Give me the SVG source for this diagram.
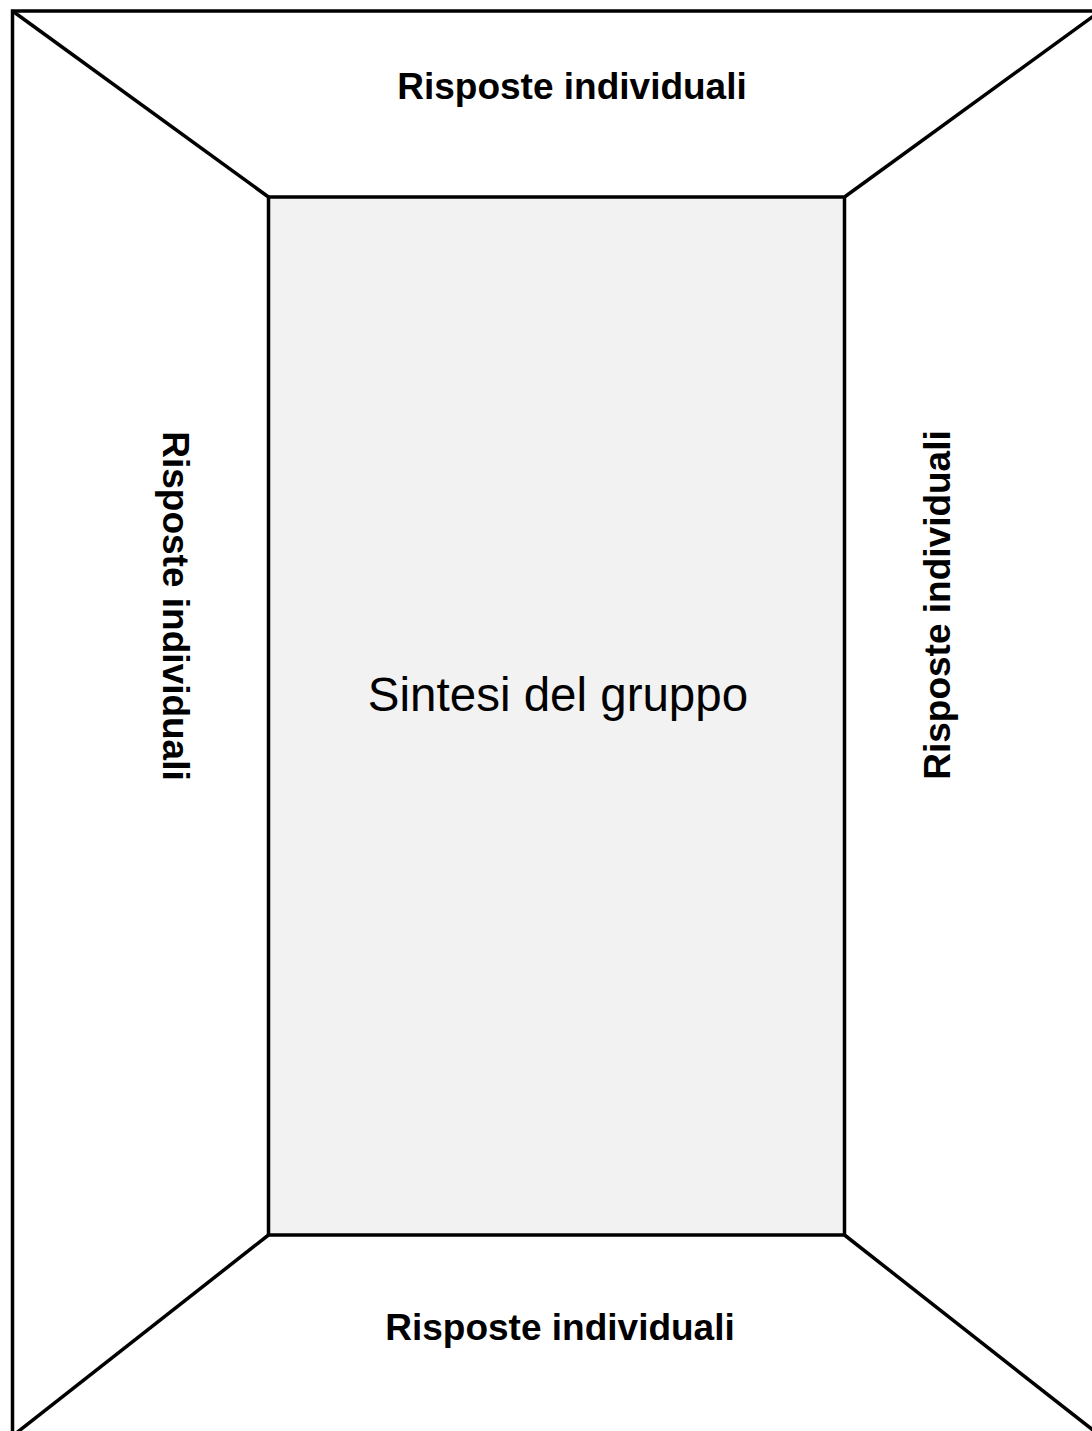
<svg xmlns="http://www.w3.org/2000/svg" width="1092" height="1431" viewBox="0 0 1092 1431">
<style>
.edge{stroke:#000;stroke-width:3.5;fill:none}
.lbl{font-family:"Liberation Sans",Arial,sans-serif;font-weight:bold;font-size:37px;fill:#000;text-anchor:middle}
.main{font-family:"Liberation Sans",Arial,sans-serif;font-size:47.5px;fill:#000;text-anchor:middle}
</style>
<rect width="1092" height="1431" fill="#fff"/>
<g id="outer">
<rect x="12.5" y="11" width="1088" height="1425" fill="#fff" stroke="#000" stroke-width="3.5"/>
</g>
<g id="connectors">
<line class="edge" x1="12.5" y1="11" x2="268.5" y2="197"/>
<line class="edge" x1="1100.5" y1="11" x2="844.5" y2="197"/>
<line class="edge" x1="12.5" y1="1436" x2="268.5" y2="1235"/>
<line class="edge" x1="1100.5" y1="1436" x2="844.5" y2="1235"/>
</g>
<g id="center">
<rect x="268.5" y="197" width="576" height="1038" fill="#f2f2f2" stroke="#000" stroke-width="3.5"/>
<text class="main" x="558" y="711">Sintesi del gruppo</text>
</g>
<g id="top">
<text class="lbl" x="572" y="99">Risposte individuali</text>
</g>
<g id="bottom">
<text class="lbl" x="560" y="1340">Risposte individuali</text>
</g>
<g id="left">
<text class="lbl" transform="translate(163,606) rotate(90)">Risposte individuali</text>
</g>
<g id="right">
<text class="lbl" transform="translate(950,605) rotate(-90)">Risposte individuali</text>
</g>
</svg>
